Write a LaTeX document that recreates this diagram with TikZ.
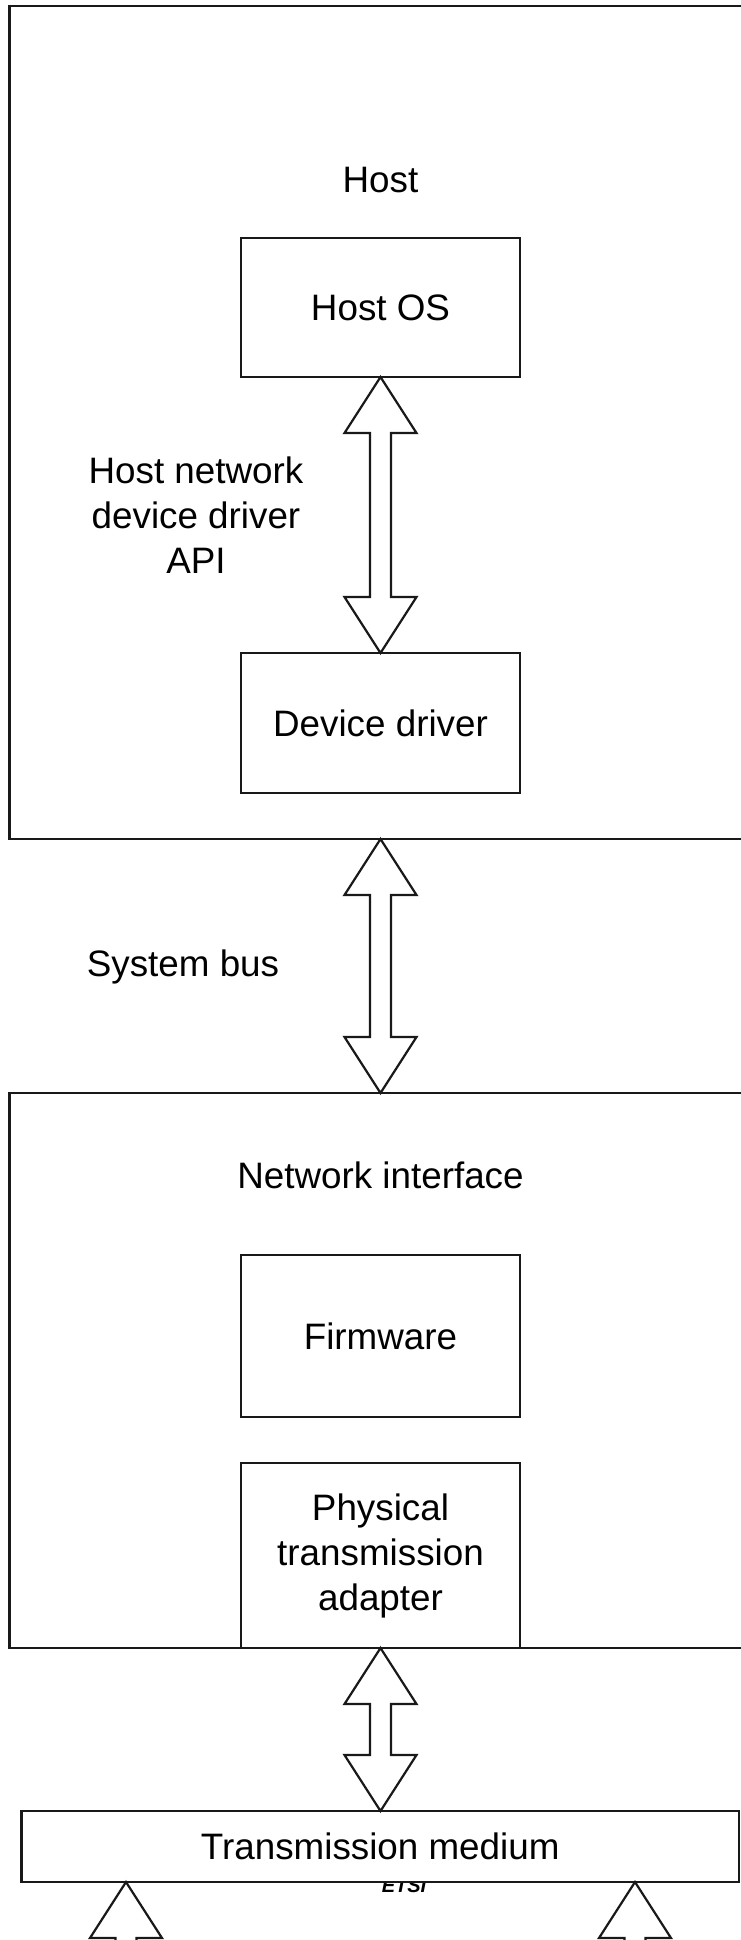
\documentclass[tikz,border=0pt]{standalone}
\usepackage{fontspec}
\setmainfont{Liberation Sans}
\usetikzlibrary{calc}
\tikzset{
 box/.style={draw=black!90, line width=2.2pt, fill=white, rectangle, inner sep=0pt, outer sep=0pt, minimum width=279pt, align=center},
 frame/.style={draw=black!90, line width=2.2pt, rectangle, inner sep=0pt, outer sep=0pt},
 lbl/.style={align=center, inner sep=0pt},
 fat/.style={draw=black!90, line width=2.2pt, fill=white, line join=miter},
}
\newcommand{\dblarr}[2]{%
 \draw[fat] (#1) -- ($(#1)+(36,56)$) -- ($(#1)+(10.5,56)$) -- ($(#2)+(10.5,-56)$) -- ($(#2)+(36,-56)$) -- (#2)
   -- ($(#2)+(-36,-56)$) -- ($(#2)+(-10.5,-56)$) -- ($(#1)+(-10.5,56)$) -- ($(#1)+(-36,56)$) -- cycle;}
\begin{document}
\begin{tikzpicture}[x=1pt,y=-1pt,font=\fontsize{36.8}{45}\selectfont]
\useasboundingbox (0,0) rectangle (741,1940);
\clip (0,0) rectangle (741,1940);
\fill[white] (0,0) rectangle (741,1940);
% Host
\node[frame, anchor=north west, minimum width=760pt, minimum height=833pt] (host) at (9.5,6) {};
\node[lbl] (hostlbl) at (380.5,180) {Host};
\node[box, minimum height=139pt] (hostos) at (380.5,307.5) {Host OS};
\node[box, minimum height=140pt] (dd) at (380.5,723) {Device driver};
\node[lbl] (api) at (196,515) {Host network\\device driver\\API};
% system bus
\node[lbl] (bus) at (183,967) {System bus};
% Network interface
\node[frame, anchor=north west, minimum width=760pt, minimum height=555pt] (ni) at (9.5,1093) {};
\node[lbl] (nilbl) at (380.5,1175) {Network interface};
\node[box, minimum height=162pt] (fw) at (380.5,1336) {Firmware};
\node[box, minimum height=185pt] (phy) at (380.5,1555.5) {Physical\\transmission\\adapter};
% ETSI and medium
\node[font=\fontsize{20}{24}\selectfont\bfseries\itshape, anchor=base, inner sep=0pt] (etsi) at (404,1892) {ETSI};
\node[box, minimum width=717.5pt, minimum height=71pt] (tm) at (380.25,1846.5) {Transmission medium};
% connectors
\coordinate (a2top) at (hostos.south |- host.south);
\coordinate (a2bot) at (hostos.south |- ni.north);
\coordinate (a3bot) at (phy.south |- tm.north);
\coordinate (b1) at ($(tm.south west)+(104.5,0)$);
\coordinate (b2) at ($(tm.south west)+(613.5,0)$);
\coordinate (b1end) at ($(b1)+(0,300)$);
\coordinate (b2end) at ($(b2)+(0,300)$);
\dblarr{hostos.south}{dd.north}
\dblarr{a2top}{a2bot}
\dblarr{phy.south}{a3bot}
\dblarr{b1}{b1end}
\dblarr{b2}{b2end}
\end{tikzpicture}
\end{document}
